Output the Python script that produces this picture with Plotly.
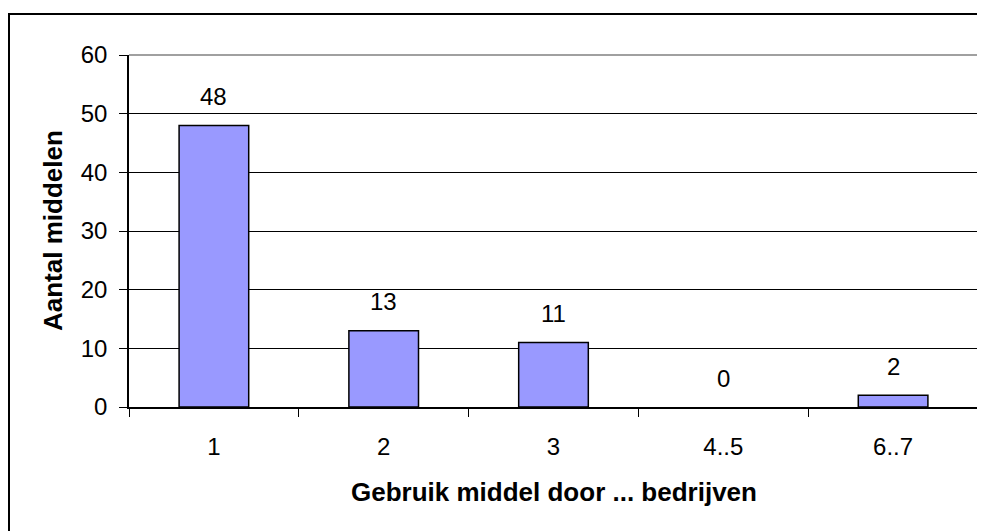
import plotly.graph_objects as go

categories = ["1", "2", "3", "4..5", "6..7"]
values = [48, 13, 11, 0, 2]
y_ticks = [0, 10, 20, 30, 40, 50, 60]

# The page body adds an 8px offset; work in figure pixel coordinates.
W, H = 985, 531
L, R, T, B = 121, 970, 47, 399
pw, ph = R - L, B - T

def px(x):
    return (x - L) / pw

def py(y):
    return (B - y) / ph

FONT = "Arial, Liberation Sans, sans-serif"

fig = go.Figure()
fig.add_trace(go.Bar(
    x=categories, y=values,
    marker=dict(color="#9999FF",
                line=dict(color="black", width=[1.5 if v > 0 else 0 for v in values])),
    width=0.41,
    hoverinfo="x+y",
))

annotations = []
for i, (c, v) in enumerate(zip(categories, values)):
    annotations.append(dict(x=i, y=v, xref="x", yref="y", text=str(v), showarrow=False,
                            xanchor="center", yanchor="middle", yshift=29,
                            font=dict(family=FONT, size=24, color="black")))
annotations.append(dict(x=px(45), y=0.5, xref="paper", yref="paper", text="<b>Aantal middelen</b>",
                        showarrow=False, textangle=-90, xanchor="center", yanchor="middle",
                        font=dict(family=FONT, size=26, color="black")))
annotations.append(dict(x=0.5, y=py(484), xref="paper", yref="paper", text="<b>Gebruik middel door ... bedrijven</b>",
                        showarrow=False, xanchor="center", yanchor="middle",
                        font=dict(family=FONT, size=26, color="black")))

shapes = [
    dict(type="line", xref="paper", yref="paper", x0=0, x1=1, y0=1, y1=1, line=dict(color="#808080", width=1.5), layer="above"),
    dict(type="line", xref="paper", yref="paper", x0=1, x1=1, y0=0, y1=1, line=dict(color="#808080", width=1.5), layer="above"),
    dict(type="rect", xref="paper", yref="paper", x0=px(1), x1=px(W + 20), y0=py(6), y1=py(H + 20),
         line=dict(color="black", width=2), layer="above"),
]

fig.update_layout(
    width=W, height=H,
    margin=dict(l=L, r=W - R, t=T, b=H - B),
    paper_bgcolor="white", plot_bgcolor="white",
    showlegend=False,
    font=dict(family=FONT, size=24, color="black"),
    annotations=annotations,
    shapes=shapes,
    xaxis=dict(type="category", showline=True, linecolor="black", linewidth=1.5,
               ticks="outside", tickson="boundaries", ticklen=8, tickcolor="black", tickwidth=1,
               ticklabelstandoff=17, showgrid=False, tickfont=dict(size=24, family=FONT),
               range=[-0.5, 4.5]),
    yaxis=dict(range=[0, 60], tickvals=y_ticks, showline=True, linecolor="black", linewidth=1.5,
               ticks="outside", ticklen=8, tickcolor="black", tickwidth=1,
               showgrid=True, gridcolor="black", gridwidth=1, zeroline=False,
               ticklabelstandoff=7, tickfont=dict(size=24, family=FONT)),
)

fig.write_html("out.html")
